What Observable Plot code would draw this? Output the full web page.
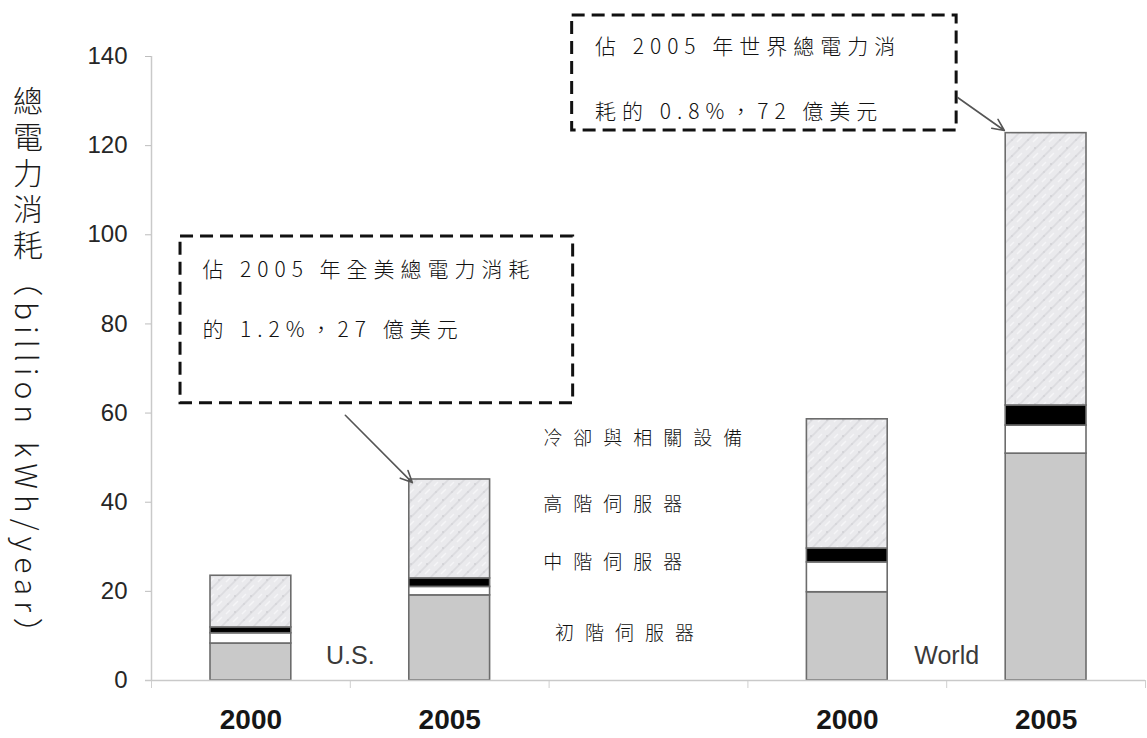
<!DOCTYPE html>
<html>
<head>
<meta charset="utf-8">
<script src="https://cdn.jsdelivr.net/npm/d3@7"></script>
<script src="https://cdn.jsdelivr.net/npm/@observablehq/plot@0.6"></script>
<style>
  html, body { margin: 0; padding: 0; background: #fff; }
  #chart { width: 1147px; height: 738px; }
</style>
</head>
<body>
<div id="chart"></div>
<script>
// ---- data ----
const categories = ["US 2000", "US 2005", "", "World 2000", "World 2005"];
const yearLabels = ["2000", "2005", "", "2000", "2005"];
const barCategories = ["US 2000", "US 2005", "World 2000", "World 2005"];
const seriesNames = ["初階伺服器", "中階伺服器", "高階伺服器", "冷卻與相關設備"];
const seriesFills = ["#c9c9c9", "#ffffff", "#000000", "url(#coolTex)"];
const volumeServers = [8.3, 19.1, 19.8, 50.9];
const midRangeServers = [2.3, 1.9, 6.7, 6.3];
const highEndServers = [1.3, 1.9, 3.1, 4.5];
const coolingAux = [11.6, 22.2, 29.0, 61.1];
const yTicks = [0, 20, 40, 60, 80, 100, 120, 140];
const yLabel = "總電力消耗（billion kWh/year）";

const groupLabels = ["U.S.", "World"];
const groupLabelCats = ["US 2005", "World 2005"];
const groupLabelY = [5.6, 5.6];

// series labels (placed in the empty middle slot)
const legendTexts = ["初階伺服器", "中階伺服器", "高階伺服器", "冷卻與相關設備"];
const legendX = [2.03, 1.97, 1.97, 1.97];
const legendY = [10.5, 26.3, 39.3, 54.1];

// callouts
const boxX1 = [0.146, 2.116];
const boxX2 = [2.121, 4.05];
const boxY1 = [62.2, 123.4];
const boxY2 = [99.6, 149.2];
const annotLines = ["佔 2005 年全美總電力消耗", "的 1.2%，27 億美元", "佔 2005 年世界總電力消", "耗的 0.8%，72 億美元"];
const annotX = [0.256, 0.256, 2.231, 2.231];
const annotY = [92.0, 78.5, 142.0, 127.4];
const arrowX1 = [0.975, 4.055];
const arrowY1 = [59.5, 130.8];
const arrowX2 = [1.312, 4.29];
const arrowY2 = [44.4, 123.4];

// ---- tables built from arrays ----
const seriesValues = [volumeServers, midRangeServers, highEndServers, coolingAux];
const rows = barCategories.flatMap((c, i) => seriesNames.map((s, j) => ({
  cat: c, slot: categories.indexOf(c), slotEnd: categories.indexOf(c) + 1,
  series: s, value: seriesValues[j][i]
})));
const boundaries = categories.map((c, i) => i).concat([categories.length]);
const centers = categories.map((c, i) => i + 0.5).filter((d, i) => yearLabels[i] !== "");
const groupRows = groupLabels.map((g, i) => ({label: g, x: categories.indexOf(groupLabelCats[i]), y: groupLabelY[i]}));
const legendRows = legendTexts.map((t, i) => ({t, x: legendX[i], y: legendY[i]}));
const boxes = boxX1.map((d, i) => ({x1: boxX1[i], x2: boxX2[i], y1: boxY1[i], y2: boxY2[i]}));
const annots = annotLines.map((t, i) => ({t, x: annotX[i], y: annotY[i]}));
const arrows = arrowX1.map((d, i) => ({x1: arrowX1[i], y1: arrowY1[i], x2: arrowX2[i], y2: arrowY2[i]}));

const cjk = "'Noto Sans CJK TC', 'Noto Sans CJK SC', sans-serif";

const plot = Plot.plot({
  width: 1147,
  height: 738,
  marginLeft: 151,
  marginRight: 2,
  marginTop: 56,
  marginBottom: 58,
  x: {domain: [0, categories.length], axis: null},
  y: {domain: [0, 140], axis: null},
  color: {type: "ordinal", domain: seriesNames, range: seriesFills},
  style: {fontFamily: "'Liberation Sans', Arial, sans-serif", background: "#fff", color: "#222"},
  marks: [
    Plot.ruleX([0], {y1: 0, y2: 140, stroke: "#c9c9c9", strokeWidth: 1.5}),
    Plot.axisY({ticks: yTicks, tickSize: 6, tickPadding: 18, fontSize: 24, stroke: "#bdbdbd", fill: "#262626"}),
    Plot.axisX({ticks: boundaries, tickSize: 8, tickFormat: () => "", stroke: "#cfcfcf"}),
    Plot.axisX({ticks: centers, tickSize: 0, tickPadding: 29, fontSize: 28, fontWeight: "bold", fill: "#161616",
      tickFormat: d => yearLabels[Math.floor(d)]}),
    Plot.rectY(rows, {x1: "slot", x2: "slotEnd", y: "value", fill: "series", insetLeft: 59, insetRight: 59,
      stroke: "#6c6c6c", strokeWidth: 1.6}),
    Plot.ruleY([0], {x1: -0.03, x2: categories.length, stroke: "#c9c9c9", strokeWidth: 1.5}),
    Plot.text(groupRows, {x: "x", y: "y", text: "label", fontSize: 25, fill: "#3a3a3a", textAnchor: "middle"}),
    Plot.text(legendRows, {x: "x", y: "y", text: "t", fontSize: 19, fill: "#111", textAnchor: "start",
      fontFamily: cjk, fontWeight: 300}),
    Plot.rect(boxes, {x1: "x1", x2: "x2", y1: "y1", y2: "y2", fill: "none", stroke: "#111",
      strokeWidth: 3, strokeDasharray: "13,7"}),
    Plot.text(annots, {x: "x", y: "y", text: "t", fontSize: 21, fill: "#111", textAnchor: "start",
      fontFamily: cjk, fontWeight: 300}),
    Plot.arrow(arrows, {x1: "x1", y1: "y1", x2: "x2", y2: "y2", stroke: "#555", strokeWidth: 1.6,
      headLength: 12, headAngle: 50})
  ]
});

const svg = d3.select(plot);

// letter spacing for the CJK labels
svg.selectAll("text").each(function() {
  const t = this.textContent;
  if (annotLines.includes(t)) d3.select(this).style("letter-spacing", "6px");
  else if (legendTexts.includes(t)) d3.select(this).style("letter-spacing", "11px");
});

// texture for the cooling segment
const defs = svg.insert("defs", ":first-child");
const pat = defs.append("pattern").attr("id", "coolTex").attr("patternUnits", "userSpaceOnUse")
  .attr("width", 16).attr("height", 16);
pat.append("rect").attr("width", 16).attr("height", 16).attr("fill", "#eaeaed");
pat.append("path").attr("d", "M0 16 L16 0 M-4 4 L4 -4 M12 20 L20 12")
  .attr("stroke", "#dcdce0").attr("stroke-width", 1.6);
pat.append("path").attr("d", "M2 6 L6 2 M9 14 L14 9")
  .attr("stroke", "#f5f5f7").attr("stroke-width", 1.5);
pat.append("circle").attr("cx", 11).attr("cy", 4).attr("r", 1).attr("fill", "#d0d0d4");
pat.append("circle").attr("cx", 4).attr("cy", 12).attr("r", 0.9).attr("fill", "#d4d4d8");

// vertical y-axis title
svg.append("text")
  .attr("x", 28).attr("y", 86)
  .attr("text-anchor", "start")
  .style("writing-mode", "vertical-rl")
  .style("letter-spacing", "6px")
  .attr("font-family", cjk)
  .attr("font-weight", 300)
  .attr("font-size", 30)
  .attr("fill", "#1a1a1a")
  .text(yLabel);

document.getElementById("chart").appendChild(plot);
</script>
</body>
</html>
